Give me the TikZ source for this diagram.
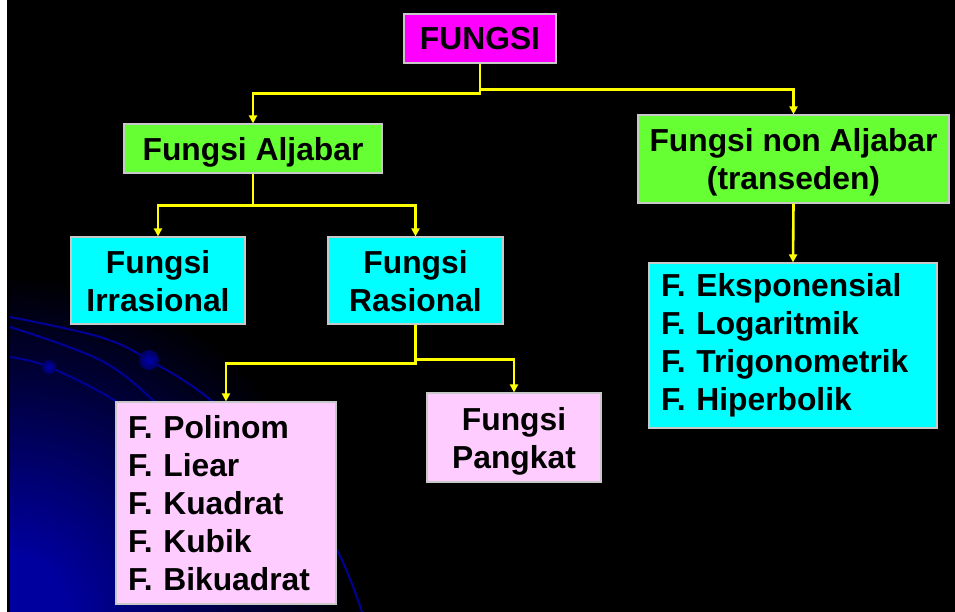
\documentclass[tikz,border=0pt]{standalone}
\usepackage{fontspec}
\setmainfont{Liberation Sans}
\usetikzlibrary{arrows.meta}
\definecolor{mag}{RGB}{255,0,255}
\definecolor{grn}{RGB}{102,255,51}
\definecolor{cyn}{RGB}{0,255,255}
\definecolor{pnk}{RGB}{255,204,255}
\definecolor{yel}{RGB}{255,255,0}
\definecolor{boxline}{RGB}{200,200,200}
\definecolor{deepblue}{RGB}{0,0,158}
\definecolor{arcblue}{RGB}{0,0,150}
\definecolor{ballin}{RGB}{0,0,175}
\definecolor{ballout}{RGB}{0,0,95}
\tikzset{
  basebox/.style={draw=boxline, line width=1.2pt, text=black, inner sep=0pt,
    font=\fontsize{31.8}{38}\selectfont\bfseries},
  box/.style={basebox, text depth=0pt, align=center},
  listbox/.style={basebox, align=left, inner xsep=12pt, inner ysep=0pt},
  conn/.style={draw=yel, line width=2.6pt, line join=miter,
    -{Triangle[width=8pt,length=8pt]}},
  arcline/.style={draw=arcblue, line width=2pt},
  orb/.style={inner color=ballin, outer color=ballout},
}
\begin{document}
\begin{tikzpicture}[x=1pt,y=-1pt]
\useasboundingbox (0,0) rectangle (955,612);
% background
\fill[white] (0,0) rectangle (7,612);
\fill[black] (7,0) rectangle (955,612);
\begin{scope}
  \clip (10,0) rectangle (955,612);
  \foreach \r in {340,335,...,60}{
    \pgfmathsetmacro\p{(340-\r)/2.8}
    \fill[deepblue!\p!black] (10,612) circle (\r);
  }
  \fill[deepblue] (10,612) circle (60);
  \draw[arcline] plot[smooth, tension=0.6] coordinates {(10,317) (100,337) (149,360) (213,402) (290,480) (337,550) (362,612)};
  \draw[arcline] plot[smooth, tension=0.6] coordinates {(10,327) (100,360) (155,402) (200,450)};
  \draw[arcline] plot[smooth, tension=0.6] coordinates {(10,357) (49,367) (117,402) (160,440)};
  \shade[orb] (149,360) circle (10);
  \shade[orb] (49,367) circle (7);
\end{scope}

% nodes
\node[box, fill=mag, minimum width=152, minimum height=49] (fungsi) at (480,38.5) {FUNGSI};
\node[box, fill=grn, minimum width=258, minimum height=49] (alj) at (253,148.5) {Fungsi Aljabar};
\node[box, fill=grn, minimum width=311, minimum height=88] (nonalj) at (793.5,159) {Fungsi non Aljabar\\(transeden)};
\node[box, fill=cyn, minimum width=174, minimum height=87] (irr) at (158,280.5) {Fungsi\\Irrasional};
\node[box, fill=cyn, minimum width=175, minimum height=87] (ras) at (415.5,280.5) {Fungsi\\Rasional};
\node[listbox, fill=cyn, text width=264, minimum width=288, minimum height=165] (trans) at (793,345.5) {F. Eksponensial\\F. Logaritmik\\F. Trigonometrik\\F. Hiperbolik};
\node[listbox, fill=pnk, text width=196, minimum width=220, minimum height=202] (poli) at (226,503) {F. Polinom\\F. Liear\\F. Kuadrat\\F. Kubik\\F. Bikuadrat};
\node[box, fill=pnk, minimum width=174, minimum height=89] (pang) at (514,437.5) {Fungsi\\Pangkat};

% connectors
\draw[conn] (fungsi.south) -- ++(0,30) -| (alj.north);
\draw[conn] (fungsi.south) -- ++(0,26) -| (nonalj.north);
\draw[conn] (alj.south) -- ++(0,32) -| (irr.north);
\draw[conn] (alj.south) -- ++(0,32) -| (ras.north);
\draw[conn] (nonalj.south) -- (trans.north);
\draw[conn] (ras.south) -- ++(0,39) -| (poli.north);
\draw[conn] (ras.south) -- ++(0,35) -| (pang.north);
\end{tikzpicture}
\end{document}
